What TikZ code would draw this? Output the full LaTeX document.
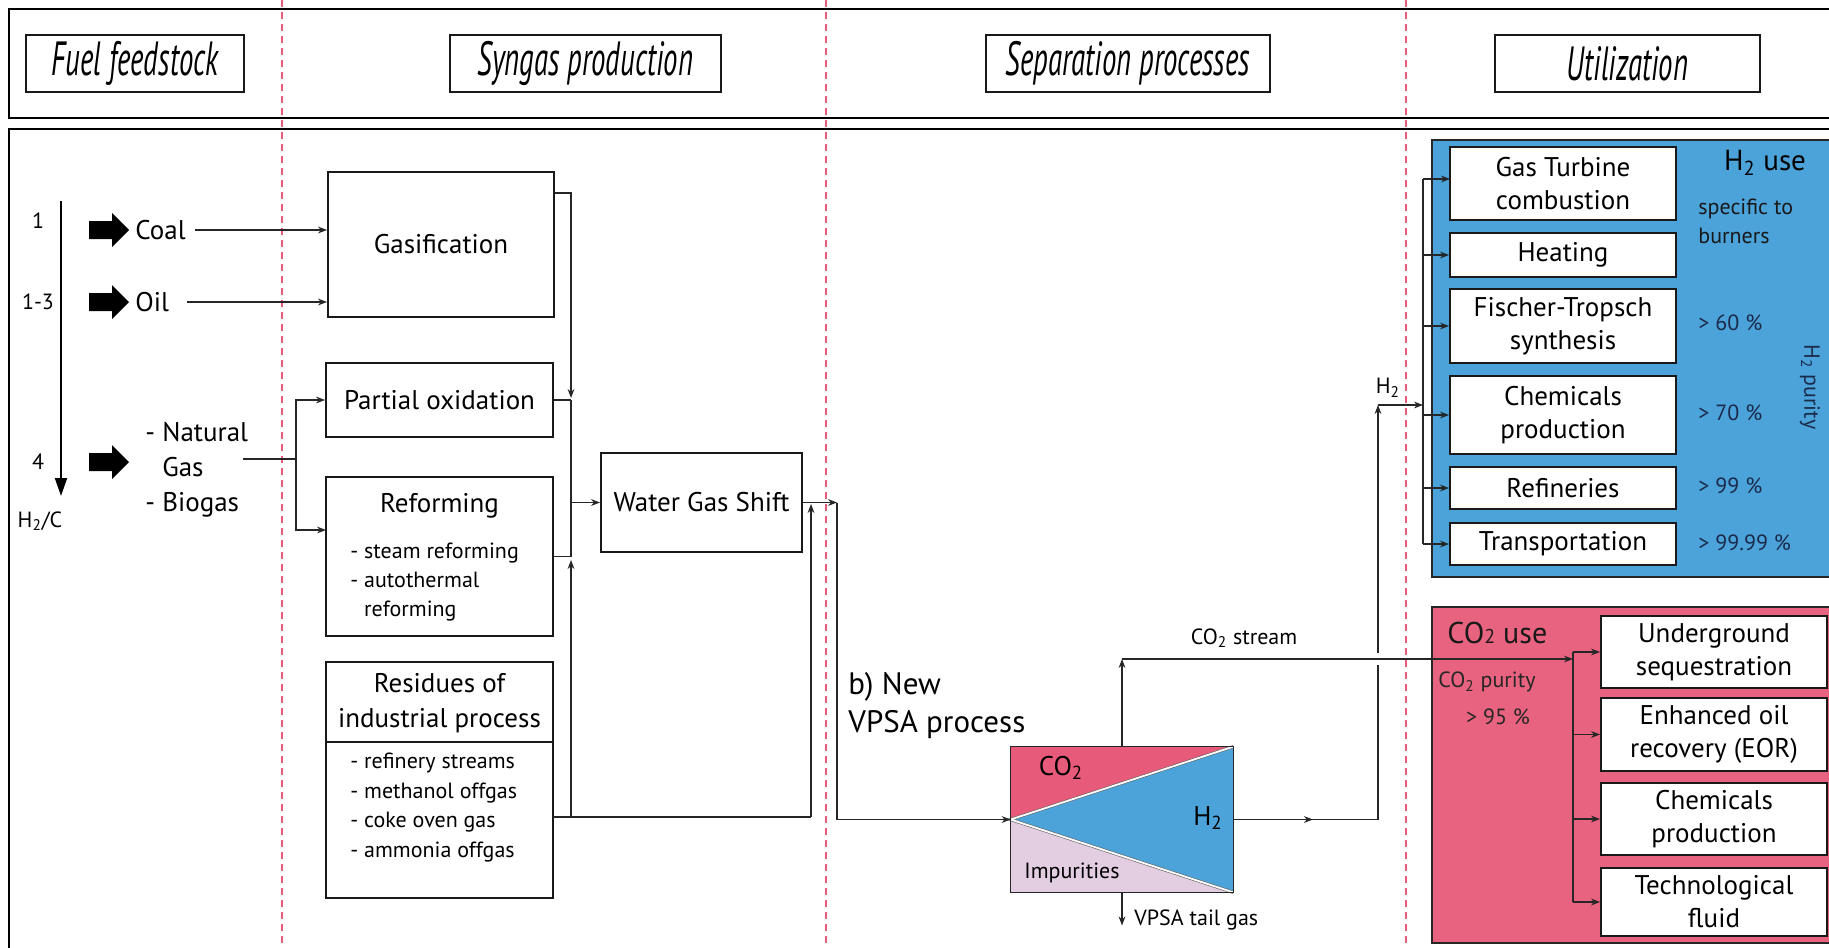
\documentclass[tikz,border=0pt]{standalone}
\usepackage{fontspec}
\setmainfont{PT Sans}
\newfontfamily\headfont[FakeStretch=0.6]{PT Sans}
\usetikzlibrary{arrows.meta,fit,calc,decorations.markings}
\definecolor{dashred}{HTML}{EC5A7A}
\definecolor{hblue}{HTML}{4BA3DA}
\definecolor{cpink}{HTML}{E8637F}
\definecolor{vpink}{HTML}{E85A7A}
\definecolor{lav}{HTML}{E2CDE1}
\definecolor{navy}{HTML}{1B2A4A}
\newcommand\hsub{\textsubscript{2}}
\begin{document}
\begin{tikzpicture}[x=0.5pt,y=-0.5pt,
  box/.style={draw=black!90, line width=1pt, fill=white, inner sep=0pt},
  btxt/.style={inner sep=0pt, align=center, font=\fontsize{13.5}{16.5}\selectfont},
  hbox/.style={draw=black!90, line width=1pt, fill=white, inner sep=0pt},
  htxt/.style={inner sep=0pt, font=\headfont\itshape\fontsize{24}{26}\selectfont},
  conn/.style={line width=0.55pt, draw=black!85},
  arr/.style={conn, -{Stealth[length=4.5pt,width=3.4pt]}},
  dline/.style={draw=dashred, line width=0.6pt, dash pattern=on 3.5pt off 2.5pt},
  txt/.style={inner sep=0pt, font=\fontsize{13.5}{17.5}\selectfont},
  lblS/.style={inner sep=0pt, font=\fontsize{11}{14.5}\selectfont},
  lblT/.style={inner sep=0pt, font=\fontsize{11}{13}\selectfont},
  fatarrow/.pic={\fill[black] (0,-9) -- (23,-9) -- (23,-17) -- (40,0) -- (23,17) -- (23,9) -- (0,9) -- cycle;}
]
\useasboundingbox (0,0) rectangle (1829,947);
\clip (0,0) rectangle (1829,947);
\fill[white] (0,0) rectangle (1829,947);

% frames
\draw[line width=1pt] (1860,9) -- (9,9) -- (9,118) -- (1860,118);
\draw[line width=1pt] (1860,129) -- (9,129) -- (9,980);

% dashed column separators
\foreach \x in {282,826,1406} \draw[dline] (\x,0) -- (\x,947);

% headers
\node[hbox, fit={(26,35)(244,92)}] (hfuel) {};
\node[htxt] (hfuelt) at (hfuel.center) {Fuel feedstock};
\node[hbox, fit={(450,35)(721,92)}] (hsyn) {};
\node[htxt] (hsynt) at (hsyn.center) {Syngas production};
\node[hbox, fit={(986,35)(1270,92)}] (hsep) {};
\node[htxt] (hsept) at (hsep.center) {Separation processes};
\node[hbox, fit={(1495,35)(1760,92)}] (hutil) {};
\node[htxt] (hutilt) at (hutil.center) {Utilization};

% H2/C scale
\node[lblT] (n1) at (38,221) {1};
\node[lblT] (n13) at (38,302) {1-3};
\node[lblT] (n4) at (38,462) {4};
\node[lblT] (nh2c) at (40,521) {H\hsub/C};
\coordinate (scTop) at (61,201);
\coordinate (scBot) at (61,496);
\draw[line width=1pt, -{Triangle[length=9pt,width=6pt]}] (scTop) -- (scBot);

% feedstocks
\pic at (89,230) {fatarrow};
\pic at (89,302) {fatarrow};
\pic at (89,462) {fatarrow};
\node[txt, anchor=west] (coal) at (135,230) {Coal};
\node[txt, anchor=west] (oil) at (135,302) {Oil};
\node[txt, anchor=west, align=left] (ng) at (145,470) {- Natural\\\phantom{- }Gas\\- Biogas};

% syngas production boxes
\node[box, fit={(328,172)(554,317)}] (gas) {};
\node[btxt] (gast) at (gas.center) {Gasification};
\node[box, fit={(326,363)(553,437)}] (pox) {};
\node[btxt] (poxt) at (pox.center) {Partial oxidation};
\node[box, fit={(326,477)(553,636)}] (ref) {};
\node[txt] (reft) at (439.5,506) {Reforming};
\node[lblS, anchor=west, align=left] (refl) at (350,582) {- steam reforming\\- autothermal\\\phantom{- }reforming};
\node[box, fit={(326,662)(553,898)}] (res) {};
\coordinate (resdiv) at (0,742);
\draw[line width=1pt, black!90] (res.west |- resdiv) -- (res.east |- resdiv);
\node[txt, align=center] (rest) at (439.5,703) {Residues of\\industrial process};
\node[lblS, anchor=west, align=left, font=\fontsize{11}{14.85}\selectfont] (resl) at (350,807.5) {- refinery streams\\- methanol offgas\\- coke oven gas\\- ammonia offgas};
\node[box, fit={(601,453)(802,552)}] (wgs) {};
\node[btxt] (wgst) at (wgs.center) {Water Gas Shift};

% feed connectors
\draw[arr] ([xshift=4.5pt]coal.east) -- (coal.east -| gas.west);
\draw[arr] ([xshift=9pt]oil.east) -- (oil.east -| gas.west);
\coordinate (ngout) at (243,459);
\coordinate (ngs) at (296,459);
\coordinate (refin) at (326,530);
\draw[conn] (ngout) -- (ngs);
\draw[arr] (ngs) |- (pox.west);
\draw[arr] (ngs) |- (refin);

% collector to WGS
\coordinate (gout) at (571,193);
\coordinate (pocol) at (571,398);
\coordinate (rescol) at (571,560);
\coordinate (resout) at (553,817);
\coordinate (byp) at (811,817);
\coordinate (bypt) at (811,504);
\coordinate (wo) at (837,502.5);
\draw[arr] (gas.east |- gout) -| (pocol);
\draw[conn] (pox.east) -- (pox.east -| gout);
\draw[arr] (pox.east -| gout) |- (wgs.west);
\draw[conn] (ref.east) -- (ref.east -| gout) -- (wgs.west -| gout);
\draw[arr] (resout) -| (rescol);
\draw[conn] (resout -| rescol) -- (byp);
\draw[arr] (byp) -- (bypt);
\draw[arr] (wgs.east) -- (wo);

% VPSA unit
\node[fit={(1011,747)(1233,892)}, inner sep=0pt] (vpsa) {};
\fill[vpink] (vpsa.north west) -- (vpsa.north east) -- (vpsa.west) -- cycle;
\fill[lav] (vpsa.west) -- (vpsa.south east) -- (vpsa.south west) -- cycle;
\fill[hblue] (vpsa.west) -- (vpsa.north east) -- (vpsa.south east) -- cycle;
\draw[black!60, line width=0.3pt, double=white, double distance=0.9pt] (vpsa.north east) -- (vpsa.west) -- (vpsa.south east);
\draw[line width=0.6pt, black!85] (vpsa.south west) rectangle (vpsa.north east);
\node[txt] (vco2) at (1061,768) {CO\hsub};
\node[txt] (vh2) at (1208,818) {H\hsub};
\node[lblS] (vimp) at (1072,873) {Impurities};
\node[inner sep=0pt, anchor=west, align=left, font=\fontsize{15.5}{19}\selectfont] (bnew) at (848,706) {b) New\\VPSA process};
\draw[arr] (wo) |- (vpsa.west);

% VPSA outputs
\coordinate (h2c) at (1378,819.5);
\coordinate (h2gapb) at (1378,665);
\coordinate (h2gapt) at (1378,653);
\coordinate (h2top) at (1378,405);
\coordinate (co2c) at (1121,659);
\coordinate (dh) at (1423,0);
\coordinate (dc) at (1573,0);
\draw[conn, postaction={decorate, decoration={markings, mark=at position 0.55 with {\arrow{Stealth[length=4.5pt,width=3.4pt]}}}}] (vpsa.east) -- (h2c);
\draw[conn] (h2c) -- (h2gapb);
\draw[arr] (h2gapt) -- (h2top);
\draw[arr] (vpsa.north) -- (vpsa.north |- co2c);
\draw[arr] (vpsa.south) -- ++(0,33);
\node[lblS, anchor=west] (tail) at (1134,920) {VPSA tail gas};
\node[lblS] (co2s) at (1244,638) {CO\hsub{} stream};
\node[lblT] (h2lab) at (1388,388) {H\hsub};

% H2 use panel
\node[fit={(1432,140)(1870,577)}, fill=hblue, draw=black!85, line width=1pt, inner sep=0pt] (h2box) {};
\node[box, fit={(1450,147)(1676,220)}] (gt) {};
\node[btxt] (gtt) at (gt.center) {Gas Turbine\\combustion};
\node[box, fit={(1450,233)(1676,277)}] (heat) {};
\node[btxt] (heatt) at (heat.center) {Heating};
\node[box, fit={(1450,289)(1676,363)}] (ft) {};
\node[btxt] (ftt) at (ft.center) {Fischer-Tropsch\\synthesis};
\node[box, fit={(1450,376)(1676,454)}] (chem) {};
\node[btxt] (chemt) at (chem.center) {Chemicals\\production};
\node[box, fit={(1450,467)(1676,509)}] (refn) {};
\node[btxt] (refnt) at (refn.center) {Refineries};
\node[box, fit={(1450,523)(1676,565)}] (trans) {};
\node[btxt] (transt) at (trans.center) {Transportation};
\node[inner sep=0pt, font=\fontsize{14.5}{16}\selectfont] (h2use) at (1765,163) {H\hsub{} use};
\node[lblS, anchor=west, align=left, text=black!90] (spec) at (1698,221) {specific to\\burners};
\node[lblS, anchor=west, text=navy] (p60) at (1698,323) {> 60 \%};
\node[lblS, anchor=west, text=navy] (p70) at (1698,413) {> 70 \%};
\node[lblS, anchor=west, text=navy] (p99) at (1698,486) {> 99 \%};
\node[lblS, anchor=west, text=navy] (p9999) at (1698,543) {> 99.99 \%};
\node[lblS, text=navy, rotate=-90] (h2pur) at (1810,387) {H\hsub{} purity};
\coordinate (gtin) at (1450,179);
\draw[conn] (dh |- gtin) -- (dh |- trans.west);
\draw[arr] (dh |- gtin) -- (gtin);
\foreach \b in {heat,ft,chem,refn,trans} \draw[arr] (dh |- \b.west) -- (\b.west);
\draw[arr] (h2top) -- (dh |- h2top);

% CO2 use panel
\node[fit={(1432,607)(1870,943)}, fill=cpink, draw=black!85, line width=1pt, inner sep=0pt] (co2box) {};
\node[box, fit={(1601,616)(1827,688)}] (ug) {};
\node[btxt] (ugt) at (ug.center) {Underground\\sequestration};
\node[box, fit={(1601,698)(1827,771)}] (eor) {};
\node[btxt] (eort) at (eor.center) {Enhanced oil\\recovery (EOR)};
\node[box, fit={(1601,783)(1827,855)}] (chem2) {};
\node[btxt] (chem2t) at (chem2.center) {Chemicals\\production};
\node[box, fit={(1601,868)(1827,936)}] (tech) {};
\node[btxt] (techt) at (tech.center) {Technological\\fluid};
\node[inner sep=0pt, anchor=west, font=\fontsize{15}{18}\selectfont, text=black!90] (co2use) at (1447,633) {CO{\fontsize{10}{10}\selectfont 2} use};
\node[lblS, anchor=west, text=black!85] (co2pur) at (1438,682) {CO\hsub{} purity};
\node[lblS, text=black!85] (p95) at (1498,717) {> 95 \%};
\draw[conn] (dc |- ug.west) -- (dc |- tech.west);
\foreach \b in {ug,eor,chem2,tech} \draw[arr] (dc |- \b.west) -- (\b.west);
\draw[arr] (vpsa.north |- co2c) -- (dc |- co2c);
\end{tikzpicture}
\end{document}
